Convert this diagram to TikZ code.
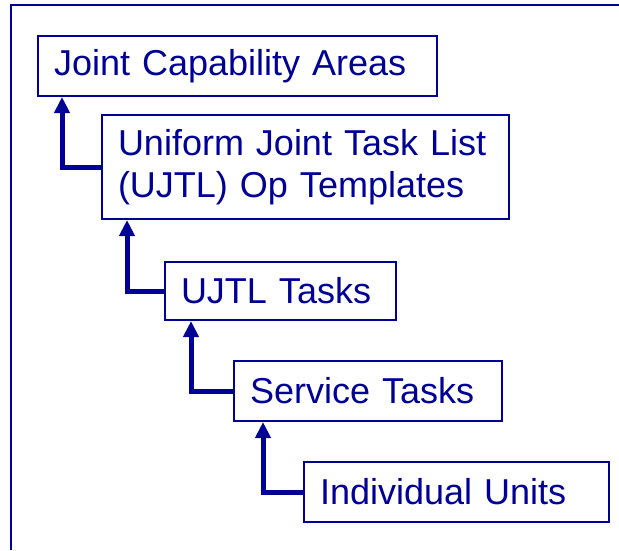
\documentclass[tikz,border=0pt]{standalone}
\usepackage{fontspec}
\setmainfont{Liberation Sans}
\usetikzlibrary{arrows.meta,calc}
\definecolor{navy}{RGB}{0,0,150}
\tikzset{
  lvl/.style={draw=navy, line width=2pt, text=navy, anchor=north west,
    inner xsep=16pt, inner ysep=0pt, align=left,
    font=\fontsize{36}{42}\selectfont},
  link/.style={draw=navy, line width=5pt,
    -{Triangle[length=16pt,width=15pt]}},
}

\begin{document}
\begin{tikzpicture}[x=1pt,y=-1pt]
  \useasboundingbox (0,0) rectangle (619,550);
  % outer frame
  \draw[navy, line width=2pt] (619,5) -- (11,5) -- (11,550);
  \node[lvl, text width=367pt, minimum height=60pt] (jca) at (37,35) {Joint Capability Areas};
  \node[lvl, text width=375pt, minimum height=104pt] (templ) at (101,114) {Uniform Joint Task List\\(UJTL) Op Templates};
  \node[lvl, text width=199pt, minimum height=58pt] (tasks) at (164,261) {UJTL Tasks};
  \node[lvl, text width=236pt, minimum height=60pt] (svc) at (233,360) {Service Tasks};
  \node[lvl, text width=273pt, minimum height=60pt] (units) at (303,461) {Individual Units};
  % arrows up the hierarchy
  \draw[link] (templ.west) -| ($(jca.south west)+(25,0)$);
  \draw[link] (tasks.west) -| ($(templ.south west)+(26,0)$);
  \draw[link] (svc.west) -| ($(tasks.south west)+(27,0)$);
  \draw[link] (units.west) -| ($(svc.south west)+(30,0)$);
\end{tikzpicture}
\end{document}
